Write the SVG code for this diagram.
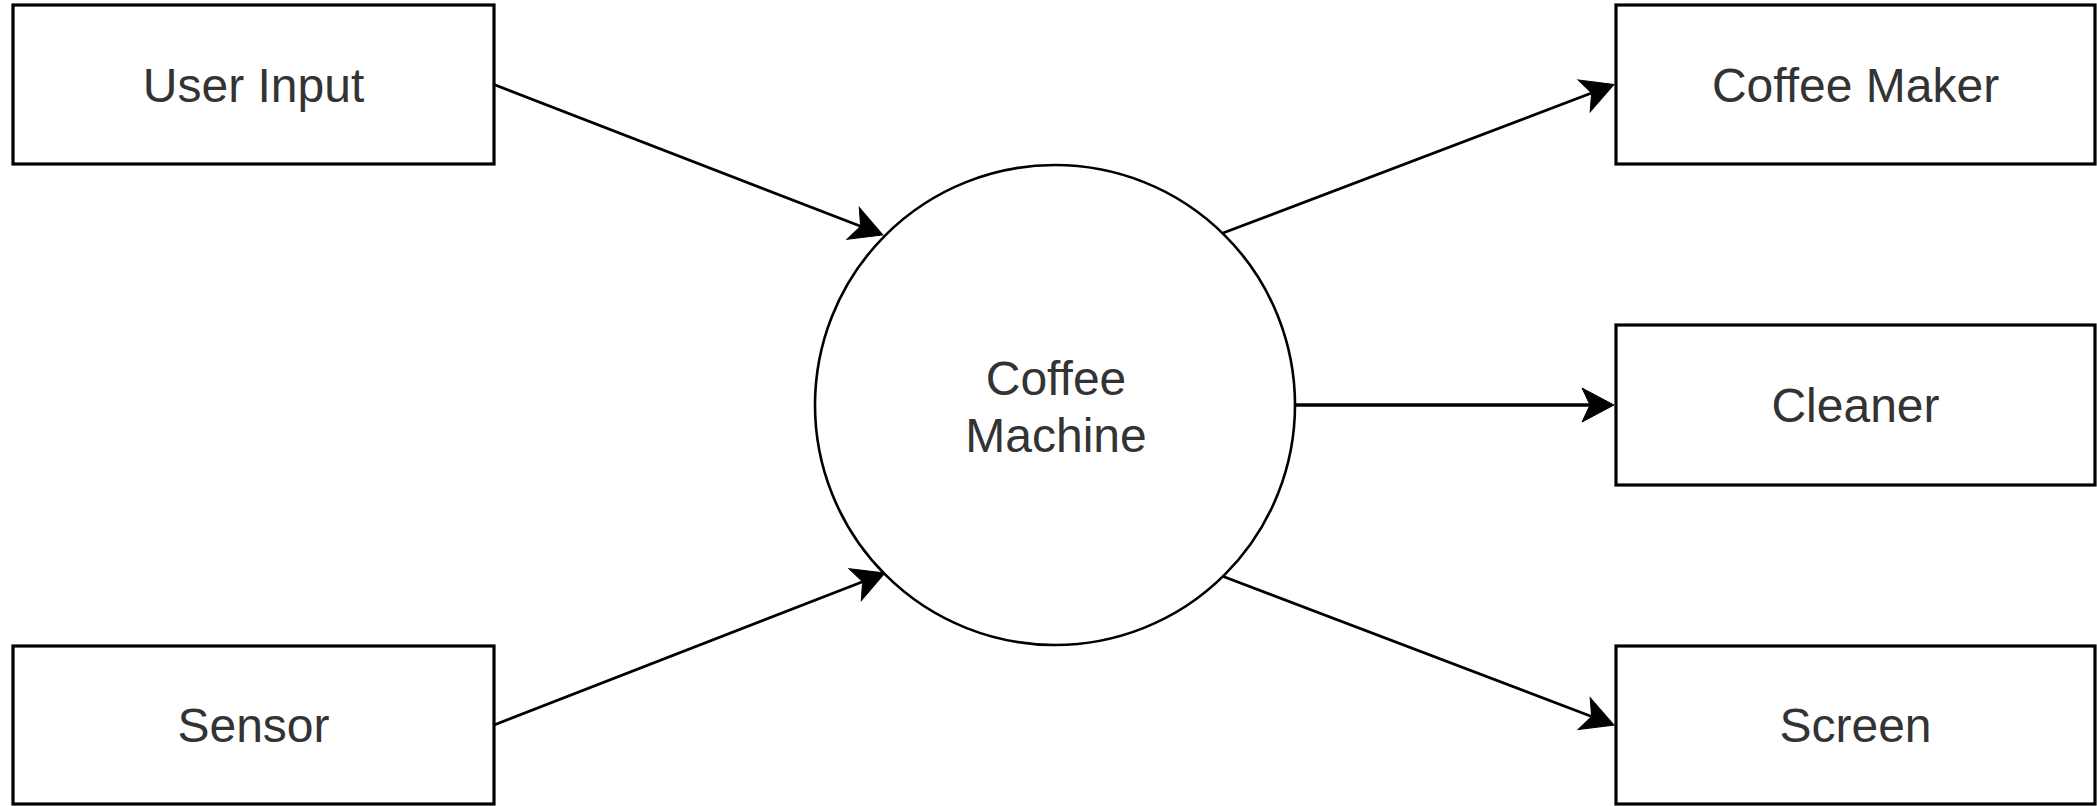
<svg xmlns="http://www.w3.org/2000/svg" width="2097" height="806" viewBox="0 0 2097 806">
  <style>
    .box { fill: #ffffff; stroke: #000000; stroke-width: 3.2; }
    .circ { fill: #ffffff; stroke: #000000; stroke-width: 2.6; }
    .lbl { font-family: "Liberation Sans", Arial, Helvetica, sans-serif; font-size: 48px; fill: #333333; text-anchor: middle; }
    .edge { fill: none; stroke: #000000; stroke-width: 2.8; }
  </style>
  <defs>
    <marker id="arrow" markerUnits="userSpaceOnUse" markerWidth="60" markerHeight="60" refX="0" refY="0" orient="auto" overflow="visible" viewBox="-30 -30 60 60">
      <path d="M24,0 L-8,-17 L0,0 L-8,17 Z" fill="#000000" stroke="#000000" stroke-width="1" stroke-linejoin="miter"/>
    </marker>
  </defs>
  <rect width="2097" height="806" fill="#ffffff"/>

  <g id="edges">
    <line class="edge" x1="494" y1="84.5" x2="860.6" y2="226.3" marker-end="url(#arrow)"/>
    <line class="edge" x1="494" y1="725" x2="862.6" y2="581.7" marker-end="url(#arrow)"/>
    <line class="edge" x1="1223" y1="233" x2="1591.6" y2="93" marker-end="url(#arrow)"/>
    <line class="edge" x1="1295" y1="405" x2="1590" y2="405" marker-end="url(#arrow)" style="stroke-width:3.4"/>
    <line class="edge" x1="1222" y1="576" x2="1591.6" y2="716.5" marker-end="url(#arrow)"/>
  </g>

  <g id="node-user-input">
    <rect class="box" x="13" y="5" width="481" height="159"/>
    <text class="lbl" x="253.5" y="101.5">User Input</text>
  </g>

  <g id="node-sensor">
    <rect class="box" x="13" y="646" width="481" height="158"/>
    <text class="lbl" x="253.5" y="742">Sensor</text>
  </g>

  <g id="node-coffee-machine">
    <circle class="circ" cx="1055" cy="405" r="240"/>
    <text class="lbl" x="1056" y="395">Coffee</text>
    <text class="lbl" x="1056" y="452">Machine</text>
  </g>

  <g id="node-coffee-maker">
    <rect class="box" x="1616" y="5" width="479" height="159"/>
    <text class="lbl" x="1855.5" y="101.5">Coffee Maker</text>
  </g>

  <g id="node-cleaner">
    <rect class="box" x="1616" y="325" width="479" height="160"/>
    <text class="lbl" x="1855.5" y="422">Cleaner</text>
  </g>

  <g id="node-screen">
    <rect class="box" x="1616" y="646" width="479" height="158"/>
    <text class="lbl" x="1855.5" y="742">Screen</text>
  </g>
</svg>
